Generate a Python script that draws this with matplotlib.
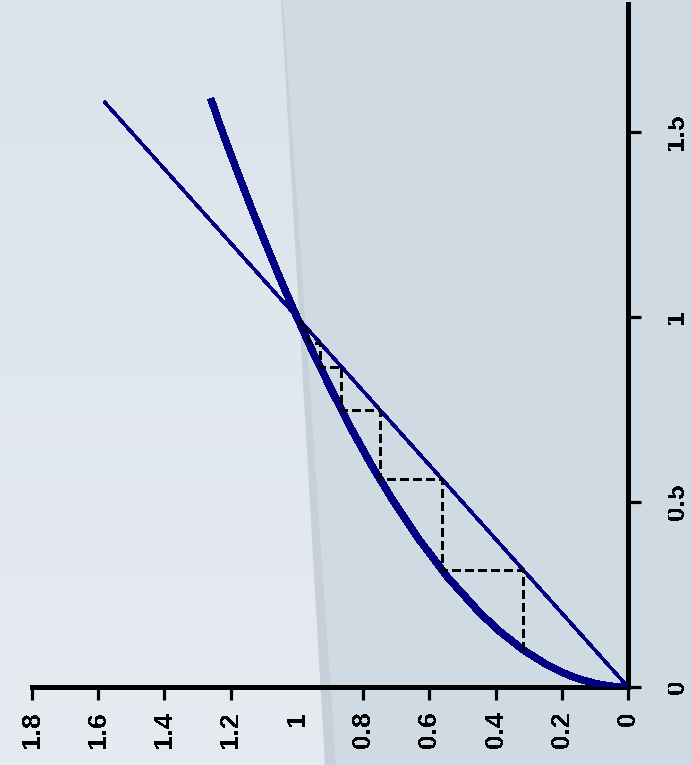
import matplotlib
matplotlib.use("Agg")
import matplotlib.pyplot as plt
import numpy as np
from matplotlib import font_manager
from matplotlib.patches import Polygon
from matplotlib.transforms import Bbox, TransformedBbox

# ---------------- data (original orientation: x horizontal, y vertical) ----------------
curve_x = [0, 0.0005, 0.002, 0.005, 0.01, 0.02, 0.03, 0.04, 0.06, 0.1, 0.15, 0.2, 0.3,
           0.4, 0.5, 0.6, 0.7, 0.8, 0.9, 1.0, 1.1, 1.2, 1.3, 1.4, 1.5, 1.59]
curve_y = [0, 0.022, 0.045, 0.071, 0.1, 0.141, 0.173, 0.2, 0.245, 0.316, 0.387, 0.447, 0.548,
           0.632, 0.707, 0.775, 0.837, 0.894, 0.949, 1.0, 1.049, 1.095, 1.14, 1.183, 1.225, 1.26]
diag_x = [0, 1.58]
diag_y = [0, 1.58]
cobweb_vals = [0.1, 0.316, 0.562, 0.75, 0.866, 0.931, 0.965, 0.982, 0.991]

x_ticks = [0, 0.5, 1, 1.5]
x_labels = ["0", "0.5", "1", "1.5"]
y_ticks = [0, 0.2, 0.4, 0.6, 0.8, 1, 1.2, 1.4, 1.6, 1.8]
y_labels = ["0", "0.2", "0.4", "0.6", "0.8", "1", "1.2", "1.4", "1.6", "1.8"]

# ---------------- fonts ----------------
names = {f.name for f in font_manager.fontManager.ttflist}
fam = "Liberation Sans" if "Liberation Sans" in names else "DejaVu Sans"
plt.rcParams["font.family"] = [fam, "DejaVu Sans"]
plt.rcParams["text.antialiased"] = False

W, H = 692, 765
fig = plt.figure(figsize=(W / 100, H / 100), dpi=100)

# ---------------- background ----------------
bg = fig.add_axes([0, 0, 1, 1])
bg.set_xlim(0, W)
bg.set_ylim(H, 0)
bg.axis("off")
top_c = np.array([0xdb, 0xe3, 0xea]) / 255
bot_c = np.array([0xe6, 0xeb, 0xf1]) / 255
t = np.linspace(0, 1, 256)[:, None, None]
grad = top_c[None, None, :] * (1 - t) + bot_c[None, None, :] * t
grad = np.repeat(grad, 2, axis=1)
bg.imshow(grad, extent=[0, W, H, 0], aspect="auto", zorder=0)
bg.add_patch(Polygon([(282, 0), (W, 0), (W, H), (335, H)], closed=True,
                     facecolor="#d0dae3", edgecolor="none", zorder=1))
bg.add_patch(Polygon([(281, 0), (283, 0), (336, H), (325, H)], closed=True,
                     facecolor="#c7d0da", edgecolor="none", zorder=2))

# ---------------- main axes (rotated: horizontal = original y, vertical = original x) ----------------
left, right = 32 / W, 628 / W
bottom, top = (H - 687) / H, (H - 4) / H
ax = fig.add_axes([left, bottom, right - left, top - bottom])
ax.patch.set_alpha(0)
ax.set_xlim(1.8, 0)
ax.set_ylim(0, (687 - 4) / 370)

navy = "#000080"
ax.plot(diag_y, diag_x, color=navy, lw=1.8, antialiased=False, zorder=3)
ax.plot(curve_y, curve_x, color=navy, lw=4.6, antialiased=False, solid_capstyle="butt", zorder=3)

# cobweb path
px, py = [], []
for i in range(len(cobweb_vals) - 1):
    a, b = cobweb_vals[i], cobweb_vals[i + 1]
    if i == 0:
        px.append(a); py.append(b)
    px.append(b); py.append(b)
    px.append(b)
    py.append(cobweb_vals[i + 2] if i + 2 < len(cobweb_vals) else b)
ax.plot(py, px, color="black", lw=2.2, ls=(0, (2.8, 1.5)), antialiased=False, zorder=4)

for s in ["left", "top"]:
    ax.spines[s].set_visible(False)
for s in ["right", "bottom"]:
    ax.spines[s].set_linewidth(2.3)
    ax.spines[s].set_color("black")
    ax.spines[s].set_antialiased(False)

ax.yaxis.tick_right()
ax.set_yticks(x_ticks)
ax.set_yticklabels(x_labels, rotation=90, va="center")
ax.set_xticks(y_ticks)
ax.set_xticklabels(y_labels, rotation=90)
ax.tick_params(axis="both", direction="out", length=9, width=2.3, color="black",
               labelsize=19)
ax.tick_params(axis="x", pad=8.5)
ax.tick_params(axis="y", pad=17.5)
for lab in ax.get_xticklabels() + ax.get_yticklabels():
    lab.set_fontweight("bold")

# hide tick mark at 1 on the horizontal axis
ax.xaxis.get_major_ticks()[5].tick1line.set_visible(False)

# clip right labels a little on their inner side
clipbox = TransformedBbox(Bbox([[668 / W, 0], [1, 1]]), fig.transFigure)
for tk in ax.yaxis.get_major_ticks():
    tk.label2.set_clip_box(clipbox)
    tk.label2.set_clip_on(True)

fig.savefig("out.png", dpi=100)
